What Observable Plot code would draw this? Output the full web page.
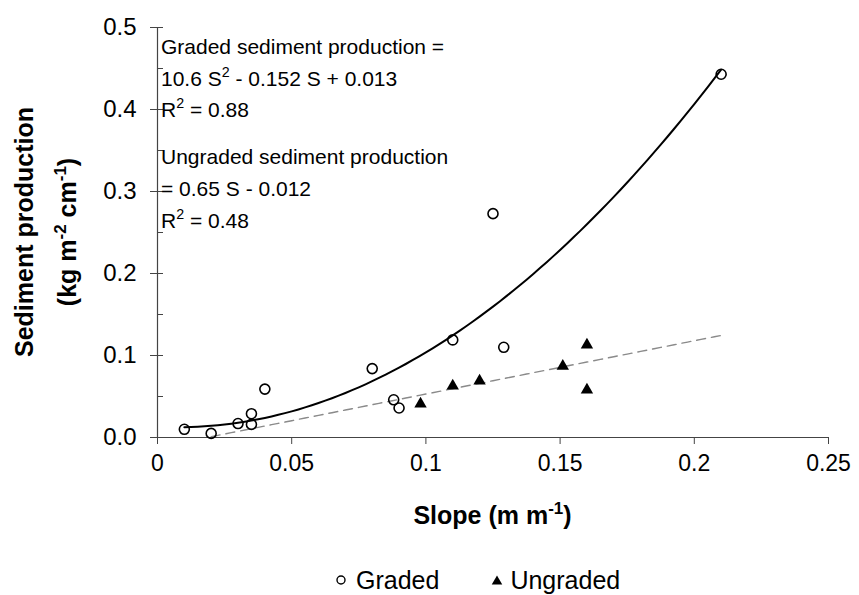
<!DOCTYPE html>
<html>
<head>
<meta charset="utf-8">
<script src="https://cdn.jsdelivr.net/npm/d3@7"></script>
<script src="https://cdn.jsdelivr.net/npm/@observablehq/plot@0.6"></script>
<style>
  html, body { margin: 0; padding: 0; background: #fff; }
  body { position: relative; width: 859px; height: 595px; overflow: hidden;
         font-family: Arial, "Liberation Sans", sans-serif; color: #000; }
  #legend { position: absolute; left: 335px; top: 566px; height: 28px;
            display: flex; align-items: center; font-size: 25px; }
  #legend .item { display: flex; align-items: center; }
  #legend svg { display: block; }
</style>
</head>
<body>
<div id="chart"></div>
<div id="legend"></div>
<script>
// Graded roads: slope (m/m) and sediment production (kg m^-2 cm^-1)
const gradedSlope = [0.010, 0.020, 0.030, 0.035, 0.035, 0.040, 0.080, 0.088, 0.090, 0.110, 0.125, 0.129, 0.210];
const gradedProd  = [0.010, 0.005, 0.017, 0.029, 0.016, 0.059, 0.084, 0.046, 0.036, 0.119, 0.273, 0.110, 0.443];

// Ungraded roads
const ungradedSlope = [0.098, 0.110, 0.120, 0.151, 0.160, 0.160];
const ungradedProd  = [0.041, 0.063, 0.069, 0.087, 0.113, 0.058];

// Fitted relationships: graded = a S^2 + b S + c, ungraded = m S + k
const gradedFit = [10.6, -0.152, 0.013];
const gradedR2 = 0.88;
const gradedFitRange = [0.01, 0.21];
const ungradedFit = [0.65, -0.012];
const ungradedR2 = 0.48;
const ungradedFitRange = [0.02, 0.21];

// Axis ticks
const xTicks = [0, 0.05, 0.1, 0.15, 0.2, 0.25];
const yTicks = [0, 0.1, 0.2, 0.3, 0.4, 0.5];
const yMinorTicks = [0, 0.05, 0.1, 0.15, 0.2, 0.25, 0.3, 0.35, 0.4, 0.45, 0.5];

const graded = gradedSlope.map((s, i) => ({slope: s, prod: gradedProd[i]}));
const ungraded = ungradedSlope.map((s, i) => ({slope: s, prod: ungradedProd[i]}));

// Sample the fitted equations across their ranges
const sampleCurve = ([s0, s1], f) =>
  d3.range(s0, s1 + 1e-9, 0.0025).concat([s1]).map(s => ({slope: s, prod: f(s)}));
const gradedCurve = sampleCurve(gradedFitRange, s => gradedFit[0] * s * s + gradedFit[1] * s + gradedFit[2]);
const ungradedCurve = sampleCurve(ungradedFitRange, s => ungradedFit[0] * s + ungradedFit[1]);

const W = 859, H = 540;
const mL = 157, mR = 31, mT = 27, mB = 103;
const frameW = W - mL - mR;

const chart = Plot.plot({
  width: W,
  height: H,
  marginLeft: mL,
  marginRight: mR,
  marginTop: mT,
  marginBottom: mB,
  x: {domain: [0, 0.25]},
  y: {domain: [0, 0.5]},
  style: {fontFamily: 'Arial, "Liberation Sans", sans-serif', fontSize: "24px", color: "#000", background: "#fff", overflow: "visible"},
  marks: [
    // axis lines
    Plot.ruleY([0], {stroke: "#444", strokeWidth: 1.2}),
    Plot.ruleX([0], {stroke: "#444", strokeWidth: 1.2}),
    // inner tick marks on the y axis
    Plot.tickY(yMinorTicks, {y: d => d, stroke: "#444", insetRight: frameW - 6}),
    Plot.axisY({ticks: yTicks, tickFormat: d => d.toFixed(1), tickSize: 7, tickPadding: 14, label: null, fontSize: 24, stroke: "#444"}),
    Plot.axisX({ticks: xTicks, tickFormat: d => String(+d.toFixed(2)), tickSize: 7, tickPadding: 10, label: null, fontSize: 23, stroke: "#444"}),
    // fitted relationships
    Plot.line(ungradedCurve, {x: "slope", y: "prod", stroke: "#8a8a8a", strokeWidth: 1.4, strokeDasharray: "9,6"}),
    Plot.line(gradedCurve, {x: "slope", y: "prod", stroke: "#000", strokeWidth: 2, curve: "linear"}),
    // observations
    Plot.dot(graded, {x: "slope", y: "prod", r: 5, stroke: "#000", strokeWidth: 1.6, fill: "none"}),
    Plot.dot(ungraded, {x: "slope", y: "prod", symbol: "triangle", r: 4.6, fill: "#000", stroke: "none"})
  ]
});
document.getElementById("chart").appendChild(chart);

const svg = d3.select(chart);
const font = 'Arial, "Liberation Sans", sans-serif';

// text with superscript parts: parts = [[text, isSup], ...]
function richText(sel, parts, size) {
  parts.forEach(([t, sup], i) => {
    const ts = sel.append("tspan").text(t);
    if (sup) ts.attr("font-size", size * 0.68).attr("dy", -size * 0.42);
    else if (i > 0 && parts[i - 1][1]) ts.attr("dy", size * 0.42);
  });
}

// axis titles
const xTitle = svg.append("text")
  .attr("x", mL + frameW / 2).attr("y", 524)
  .attr("text-anchor", "middle").attr("font-family", font)
  .attr("font-weight", "bold").attr("font-size", 25).attr("fill", "#000");
richText(xTitle, [["Slope (m m", false], ["-1", true], [")", false]], 25);

const yMid = (mT + (H - mB)) / 2;
svg.append("text")
  .attr("transform", `translate(33,${yMid}) rotate(-90)`)
  .attr("text-anchor", "middle").attr("font-family", font)
  .attr("font-weight", "bold").attr("font-size", 25).attr("fill", "#000")
  .text("Sediment production");
const yTitle2 = svg.append("text")
  .attr("transform", `translate(76,${yMid}) rotate(-90)`)
  .attr("text-anchor", "middle").attr("font-family", font)
  .attr("font-weight", "bold").attr("font-size", 25).attr("fill", "#000");
richText(yTitle2, [["(kg m", false], ["-2", true], [" cm", false], ["-1", true], [")", false]], 25);

// regression equations
const signed = v => (v < 0 ? " - " : " + ") + Math.abs(v);
const annot = [
  {y: 54, parts: [["Graded sediment production =", false]]},
  {y: 86, parts: [[`${gradedFit[0]} S`, false], ["2", true], [`${signed(gradedFit[1])} S${signed(gradedFit[2])}`, false]]},
  {y: 117, parts: [["R", false], ["2", true], [` = ${gradedR2}`, false]]},
  {y: 164, parts: [["Ungraded sediment production", false]]},
  {y: 196, parts: [[`= ${ungradedFit[0]} S${signed(ungradedFit[1])}`, false]]},
  {y: 228, parts: [["R", false], ["2", true], [` = ${ungradedR2}`, false]]}
];
annot.forEach(a => {
  const t = svg.append("text")
    .attr("x", mL + 4).attr("y", a.y)
    .attr("text-anchor", "start")
    .attr("font-family", font).attr("font-size", 21).attr("fill", "#000");
  richText(t, a.parts, 21);
});

// legend below the chart
const legend = d3.select("#legend");
const item1 = legend.append("div").attr("class", "item");
const s1 = item1.append("svg").attr("width", 12).attr("height", 12);
s1.append("circle").attr("cx", 6).attr("cy", 6).attr("r", 4).attr("fill", "none").attr("stroke", "#000").attr("stroke-width", 1.4);
item1.append("span").style("margin-left", "9px").text("Graded");
const item2 = legend.append("div").attr("class", "item").style("margin-left", "52px");
const s2 = item2.append("svg").attr("width", 12).attr("height", 12);
s2.append("path").attr("d", d3.symbol(d3.symbolTriangle, 48)()).attr("transform", "translate(6,7.5)").attr("fill", "#000");
item2.append("span").style("margin-left", "7px").text("Ungraded");
</script>
</body>
</html>
